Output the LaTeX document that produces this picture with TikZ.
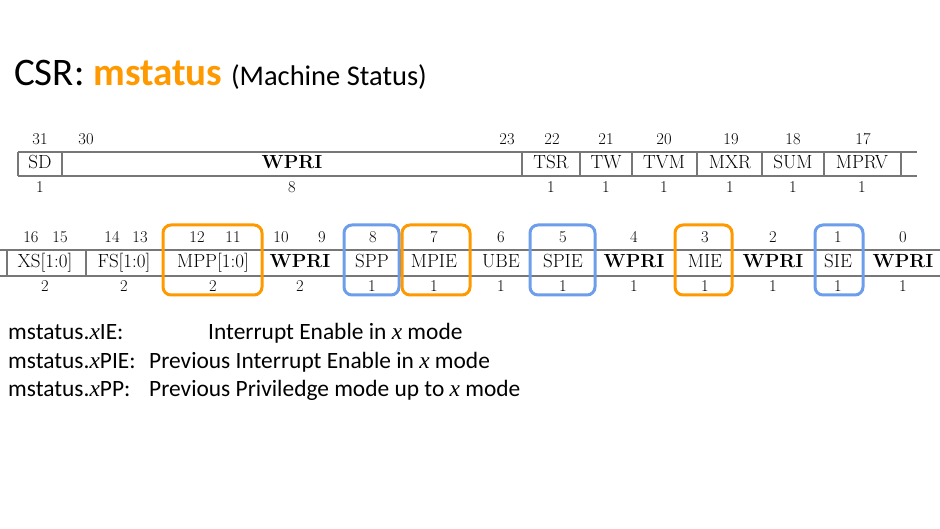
\documentclass[tikz,border=0pt]{standalone}
\usepackage{fontspec}
\newfontfamily\carlito{Carlito}
\newfontfamily\libserif{Liberation Serif}
\newcommand{\xit}{{\libserif\itshape x}}
\definecolor{orng}{HTML}{FF9900}
\definecolor{blu}{HTML}{6D9EEB}
\definecolor{grayline}{HTML}{777777}
\begin{document}
\begin{tikzpicture}[x=1pt,y=-1pt,
  lbl/.style={font=\fontsize{19}{19}\selectfont, inner sep=0pt, anchor=base},
  bnum/.style={font=\fontsize{16.5}{16.5}\selectfont, inner sep=0pt, anchor=base},
  regline/.style={draw=grayline, line width=1.3pt},
  obox/.style={draw=orng, line width=3pt, rounded corners=8pt},
  bbox/.style={draw=blu, line width=3pt, rounded corners=8pt},
  body/.style={font=\carlito\fontsize{23.4}{23.4}\selectfont, inner sep=0pt, anchor=base west},
]
\useasboundingbox (0,0) rectangle (940,529);
\fill[white] (0,0) rectangle (940,529);

% Title
\node[anchor=base west, inner sep=0pt] (title) at (14,86)
  {\carlito\fontsize{39}{39}\selectfont CSR: \textcolor{orng}{\bfseries mstatus} {\fontsize{28.5}{28.5}\selectfont(Machine Status)}};

% Row 1 lines
\draw[regline] (18,152) -- (917,152);
\draw[regline] (18,176) -- (917,176);
\foreach \xx in {18,62,522,580,632,697,762,824,901}
  \draw[regline] (\xx,152) -- (\xx,176);

% Row 1 labels
\foreach \xx/\t/\w [count=\i] in {40/SD/1, 292/\textbf{WPRI}/8, 551/TSR/1, 606/TW/1, 664/TVM/1, 730/MXR/1, 793/SUM/1, 862/MPRV/1}{
  \node[lbl] (ra\i) at (\xx,169) {\t};
  \node[bnum] (rw\i) at (\xx,193) {\w};
}
\foreach \xx/\b [count=\i] in {40/31, 86/30, 507/23, 552/22, 606/21, 664/20, 731/19, 793/18, 863/17}
  \node[bnum] (rb\i) at (\xx,145) {\b};

% Row 2 lines
\draw[regline] (0,250) -- (940,250);
\draw[regline] (0,276) -- (940,276);
\foreach \xx in {7,86,163,262,344,400,470,530,595,675,732,815,863}
  \draw[regline] (\xx,250) -- (\xx,276);

% Row 2 labels
\foreach \xx/\t/\w [count=\i] in {45/XS[1:0]/2, 124/FS[1:0]/2, 213/MPP[1:0]/2, 300/\textbf{WPRI}/2, 372/SPP/1, 434/MPIE/1, 501/UBE/1, 563/SPIE/1, 634/\textbf{WPRI}/1, 705/MIE/1, 773/\textbf{WPRI}/1, 838/SIE/1, 903/\textbf{WPRI}/1}{
  \node[lbl] (sa\i) at (\xx,268) {\t};
  \node[bnum] (sw\i) at (\xx,292) {\w};
}
\foreach \xx/\b [count=\i] in {31/16, 60/15, 112/14, 140/13, 197/12, 233/11, 281/10, 322/9, 373/8, 434/7, 501/6, 563/5, 634/4, 705/3, 773/2, 838/1, 903/0}
  \node[bnum] (sb\i) at (\xx,243) {\b};

% Highlight boxes
\draw[obox] (163,225) rectangle (262,295);
\draw[bbox] (344,225) rectangle (399,295);
\draw[obox] (402,225) rectangle (470,295);
\draw[bbox] (530,225) rectangle (595,295);
\draw[obox] (675,225) rectangle (732,295);
\draw[bbox] (815,225) rectangle (863,295);

% Body text
\node[body] (k1) at (8,340) {mstatus.\xit IE:};
\node[body] (v1) at (208,340) {Interrupt Enable in \xit{} mode};
\node[body] (k2) at (8,368) {mstatus.\xit PIE:};
\node[body] (v2) at (149,368) {Previous Interrupt Enable in \xit{} mode};
\node[body] (k3) at (8,396) {mstatus.\xit PP:};
\node[body] (v3) at (149,396) {Previous Priviledge mode up to \xit{} mode};
\end{tikzpicture}
\end{document}
